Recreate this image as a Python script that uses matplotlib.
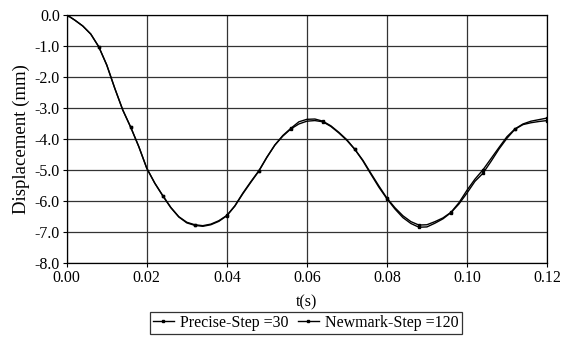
import numpy as np
import matplotlib.pyplot as plt

# sample times (s), read every 0.002 s off the reference
t = np.arange(61) * 0.002

precise = [0.0, -0.17, -0.36, -0.62, -1.03, -1.62, -2.37, -3.07, -3.63, -4.25,
           -4.95, -5.43, -5.83, -6.21, -6.51, -6.69, -6.77, -6.80, -6.75, -6.64,
           -6.47, -6.16, -5.75, -5.38, -5.03, -4.59, -4.20, -3.91, -3.68, -3.52,
           -3.43, -3.41, -3.45, -3.60, -3.81, -4.05, -4.34, -4.69, -5.11, -5.52,
           -5.91, -6.22, -6.48, -6.67, -6.78, -6.77, -6.67, -6.55, -6.37, -6.06,
           -5.66, -5.30, -5.00, -4.64, -4.28, -3.93, -3.68, -3.52, -3.43, -3.38,
           -3.33]
newmark = [0.0, -0.17, -0.36, -0.62, -1.03, -1.62, -2.37, -3.07, -3.63, -4.25,
           -4.95, -5.43, -5.84, -6.22, -6.52, -6.71, -6.79, -6.82, -6.77, -6.66,
           -6.48, -6.17, -5.77, -5.40, -5.04, -4.60, -4.20, -3.89, -3.66, -3.45,
           -3.37, -3.36, -3.43, -3.58, -3.79, -4.03, -4.34, -4.71, -5.14, -5.56,
           -5.93, -6.26, -6.54, -6.73, -6.85, -6.84, -6.72, -6.58, -6.38, -6.10,
           -5.75, -5.37, -5.11, -4.73, -4.33, -3.98, -3.69, -3.54, -3.48, -3.44,
           -3.41]

yticks = np.arange(0, -8.5, -1.0)
xticks = np.arange(0, 0.121, 0.02)

plt.rcParams['font.family'] = ['Liberation Serif']
plt.rcParams['font.size'] = 11.5

fig = plt.figure(figsize=(5.61, 3.45), dpi=100)
ax = fig.add_axes([0.119, 0.238, 0.856, 0.719])

ax.plot(t, precise, color='black', lw=1.0, marker='s', ms=2.0, markevery=4,
        label='Precise-Step =30')
ax.plot(t, newmark, color='black', lw=1.0, marker='s', ms=2.0, markevery=4,
        label='Newmark-Step =120')

ax.set_xlim(0, 0.12)
ax.set_ylim(-8.0, 0.0)
ax.set_xticks(xticks)
ax.set_xticklabels([f"{v:.2f}" for v in xticks])
ax.set_yticks(yticks)
ax.set_yticklabels([f"{v:.1f}" if v != 0 else "0.0" for v in yticks])
ax.tick_params(length=3, width=0.8, color='black', pad=2)
ax.grid(True, color='#333333', lw=0.9)
for s in ax.spines.values():
    s.set_color('black')
    s.set_linewidth(0.9)

ax.set_xlabel('t(s)', fontsize=11.5, labelpad=6)
ax.set_ylabel('Displacement (mm)', fontsize=13.5, labelpad=3)

leg = fig.legend(loc='lower center', bbox_to_anchor=(0.545, 0.008), ncol=2,
                 frameon=True, fancybox=False, handlelength=1.3,
                 handletextpad=0.4, columnspacing=0.6, borderpad=0.2,
                 fontsize=11.5)
leg.get_frame().set_edgecolor('black')
leg.get_frame().set_linewidth(0.9)

fig.savefig('out.png', dpi=100)
